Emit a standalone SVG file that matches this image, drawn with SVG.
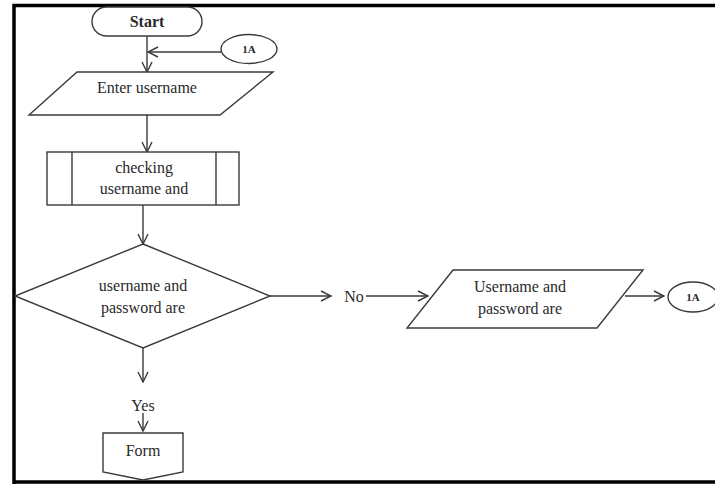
<svg xmlns="http://www.w3.org/2000/svg" width="715" height="484" viewBox="0 0 715 484">
  <style>
    .shape { fill: #fff; stroke: #3a3a3a; stroke-width: 1.4; }
    .edge { fill: none; stroke: #3a3a3a; stroke-width: 1.4; }
    .lbl { font-family: "Liberation Serif", "Times New Roman", serif; font-size: 16px; fill: #2a2a2a; text-anchor: middle; }
    .small { font-size: 11px; font-weight: bold; }
  </style>
  <defs>
    <marker id="arrow" viewBox="0 0 12 12" refX="11" refY="6" markerWidth="12" markerHeight="12" markerUnits="userSpaceOnUse" orient="auto">
      <path d="M1,1 L11,6 L1,11" fill="none" stroke="#3a3a3a" stroke-width="1.4"/>
    </marker>
  </defs>
  <rect width="715" height="484" fill="#fff"/>
  <!-- frame -->
  <path d="M14,484 V5.5 H715 M14,482 H715" fill="none" stroke="#000" stroke-width="3.5"/>

  <g id="connectors">
    <path class="edge" d="M147,36 V72" marker-end="url(#arrow)"/>
    <path class="edge" d="M221,52 H148" marker-end="url(#arrow)"/>
    <path class="edge" d="M147,115 V152" marker-end="url(#arrow)"/>
    <path class="edge" d="M143,205 V244" marker-end="url(#arrow)"/>
    <path class="edge" d="M143,348 V382" marker-end="url(#arrow)"/>
    <path class="edge" d="M143,413 V431" marker-end="url(#arrow)"/>
    <path class="edge" d="M270,296 H331" marker-end="url(#arrow)"/>
    <path class="edge" d="M366,296 H428" marker-end="url(#arrow)"/>
    <path class="edge" d="M625,296 H664" marker-end="url(#arrow)"/>
  </g>

  <g id="start">
    <rect class="shape" x="92" y="7" width="110" height="29" rx="14.5"/>
    <text class="lbl" x="147" y="27" font-weight="bold">Start</text>
  </g>

  <g id="connector-1a-top">
    <ellipse class="shape" cx="249" cy="49" rx="28" ry="14.5"/>
    <text class="lbl small" x="249" y="53">1A</text>
  </g>

  <g id="enter-username">
    <polygon class="shape" points="77,72 273,72 220,115 29,115"/>
    <text class="lbl" x="147" y="93">Enter username</text>
  </g>

  <g id="checking">
    <rect class="shape" x="47" y="152" width="192" height="53"/>
    <line class="shape" x1="72" y1="152" x2="72" y2="205"/>
    <line class="shape" x1="216" y1="152" x2="216" y2="205"/>
    <text class="lbl" x="144" y="173">checking</text>
    <text class="lbl" x="144" y="194">username and</text>
  </g>

  <g id="decision">
    <polygon class="shape" points="143,244 270,296 143,348 15,296"/>
    <text class="lbl" x="143" y="291">username and</text>
    <text class="lbl" x="143" y="313">password are</text>
  </g>

  <g id="yes-label">
    <text class="lbl" x="143" y="411">Yes</text>
  </g>

  <g id="form">
    <polygon class="shape" points="103,433 183,433 183,472 143,480 103,472"/>
    <text class="lbl" x="143" y="456">Form</text>
  </g>

  <g id="no-label">
    <text class="lbl" x="354" y="302">No</text>
  </g>

  <g id="invalid-message">
    <polygon class="shape" points="453,270 643,270 597,328 407,328"/>
    <text class="lbl" x="520" y="292">Username and</text>
    <text class="lbl" x="520" y="314">password are</text>
  </g>

  <g id="connector-1a-right">
    <ellipse class="shape" cx="693" cy="297" rx="25" ry="15"/>
    <text class="lbl small" x="693" y="301">1A</text>
  </g>
</svg>
